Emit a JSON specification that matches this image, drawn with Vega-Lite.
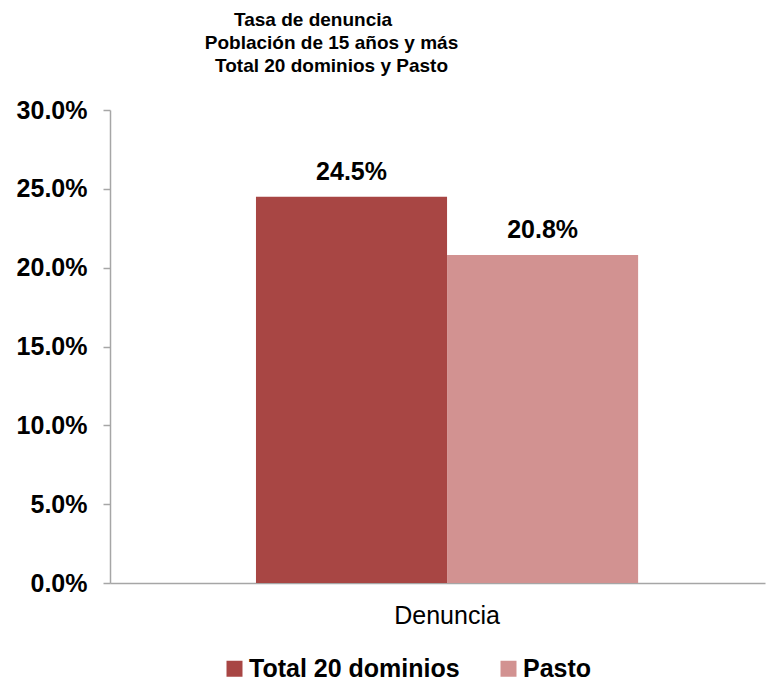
{
  "$schema": "https://vega.github.io/schema/vega-lite/v6.json",
  "autosize": {"type": "none"},
  "padding": {"left": 110, "top": 110, "right": 5, "bottom": 98},
  "width": 655,
  "height": 473,
  "background": "white",
  "title": {
    "text": ["Tasa de denuncia\u00a0\u00a0\u00a0\u00a0\u00a0\u00a0\u00a0\u200b", "Población de 15 años y más", "Total 20 dominios y Pasto"],
    "anchor": "middle",
    "frame": "group",
    "dx": -106,
    "offset": 3,
    "baseline": "bottom",
    "font": "Liberation Sans",
    "fontSize": 19,
    "fontWeight": "bold",
    "color": "black",
    "lineHeight": 23
  },
  "data": {
    "values": [
      {"categoria": "Denuncia", "serie": "Total 20 dominios", "tasa": 0.245},
      {"categoria": "Denuncia", "serie": "Pasto", "tasa": 0.208}
    ]
  },
  "encoding": {
    "x": {
      "field": "categoria",
      "type": "nominal",
      "scale": {"paddingInner": 0, "paddingOuter": 0.357, "align": 0.535},
      "axis": {
        "title": null,
        "labelAngle": 0,
        "ticks": false,
        "labelPadding": 20,
        "labelFont": "Liberation Sans",
        "labelFontSize": 25,
        "labelFontWeight": "normal",
        "labelColor": "black",
        "domainColor": "#a6a6a6",
        "domainWidth": 1.5
      }
    },
    "xOffset": {
      "field": "serie",
      "type": "nominal",
      "sort": ["Total 20 dominios", "Pasto"],
      "scale": {"paddingInner": 0, "paddingOuter": 0}
    },
    "y": {
      "field": "tasa",
      "type": "quantitative",
      "scale": {"domain": [0, 0.3]},
      "axis": {
        "title": null,
        "values": [0, 0.05, 0.1, 0.15, 0.2, 0.25, 0.3],
        "format": ".1%",
        "grid": false,
        "tickSize": 7,
        "tickColor": "#a6a6a6",
        "tickWidth": 1.5,
        "domainColor": "#a6a6a6",
        "domainWidth": 1.5,
        "labelPadding": 16,
        "labelFont": "Liberation Sans",
        "labelFontSize": 25,
        "labelFontWeight": "bold",
        "labelColor": "black"
      }
    }
  },
  "layer": [
    {
      "mark": {"type": "bar"},
      "encoding": {
        "color": {
          "field": "serie",
          "type": "nominal",
          "sort": ["Total 20 dominios", "Pasto"],
          "scale": {"domain": ["Total 20 dominios", "Pasto"], "range": ["#A84644", "#D29291"]},
          "legend": {
            "title": null,
            "orient": "none",
            "direction": "horizontal",
            "legendX": 112,
            "legendY": 546,
            "padding": 0,
            "symbolType": "square",
            "symbolSize": 256,
            "symbolStrokeWidth": 0,
            "labelOffset": 2,
            "columnPadding": 36,
            "labelLimit": 400,
            "labelFont": "Liberation Sans",
            "labelFontSize": 25,
            "labelFontWeight": "bold",
            "labelColor": "black"
          }
        }
      }
    },
    {
      "mark": {
        "type": "text",
        "baseline": "alphabetic",
        "dy": -17,
        "font": "Liberation Sans",
        "fontSize": 25,
        "fontWeight": "bold",
        "color": "black"
      },
      "encoding": {
        "text": {"field": "tasa", "type": "quantitative", "format": ".1%"}
      }
    }
  ],
  "config": {
    "view": {"stroke": null}
  }
}
